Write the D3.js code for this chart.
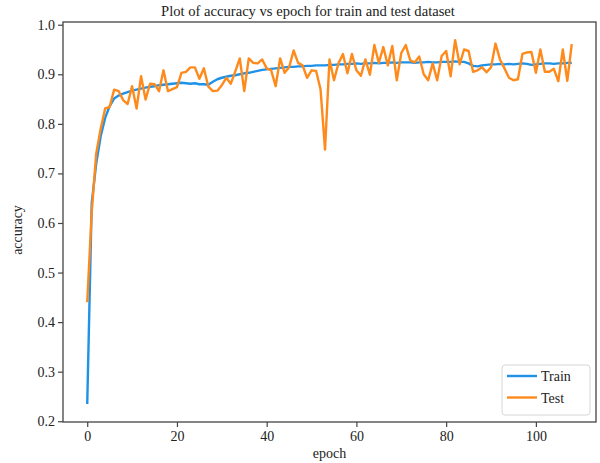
<!DOCTYPE html>
<html>
<head>
<meta charset="utf-8">
<script src="https://cdn.jsdelivr.net/npm/d3@7"></script>
<style>
  html, body { margin: 0; padding: 0; background: #fff; }
  svg { display: block; }
  text { font-family: "Liberation Serif", "DejaVu Serif", serif; fill: #222; }
</style>
</head>
<body>
<svg id="chart" width="600" height="463"></svg>
<script>
// ---- data ----
const epochs = d3.range(0, 109);
const trainAcc = [
  0.235, 0.640, 0.720, 0.775, 0.812, 0.836, 0.851, 0.857, 0.861, 0.864,
  0.867, 0.869, 0.871, 0.873, 0.875, 0.876, 0.878, 0.879, 0.880, 0.881,
  0.882, 0.883, 0.882, 0.881, 0.882, 0.880, 0.880, 0.879, 0.885, 0.890,
  0.893, 0.895, 0.897, 0.898, 0.900, 0.902, 0.903, 0.905, 0.907, 0.909,
  0.910, 0.911, 0.912, 0.913, 0.914, 0.915, 0.915, 0.916, 0.916, 0.917,
  0.917, 0.918, 0.918, 0.918, 0.919, 0.919, 0.920, 0.920, 0.921, 0.921,
  0.922, 0.921, 0.922, 0.922, 0.923, 0.922, 0.923, 0.923, 0.924, 0.923,
  0.924, 0.924, 0.924, 0.923, 0.924, 0.924, 0.925, 0.924, 0.924, 0.925,
  0.925, 0.925, 0.926, 0.925, 0.925, 0.922, 0.917, 0.916, 0.918, 0.919,
  0.920, 0.920, 0.921, 0.920, 0.921, 0.920, 0.921, 0.922, 0.921, 0.919,
  0.920, 0.921, 0.922, 0.922, 0.921, 0.922, 0.922, 0.923, 0.923
];
const testAcc = [
  0.440, 0.622, 0.740, 0.790, 0.831, 0.834, 0.869, 0.866, 0.848, 0.840,
  0.876, 0.831, 0.896, 0.849, 0.881, 0.880, 0.866, 0.908, 0.866, 0.870,
  0.874, 0.903, 0.905, 0.914, 0.914, 0.891, 0.912, 0.875, 0.866, 0.867,
  0.878, 0.893, 0.881, 0.906, 0.932, 0.866, 0.932, 0.923, 0.922, 0.930,
  0.912, 0.908, 0.876, 0.932, 0.903, 0.914, 0.948, 0.923, 0.918, 0.893,
  0.908, 0.907, 0.870, 0.748, 0.930, 0.888, 0.922, 0.941, 0.902, 0.941,
  0.908, 0.897, 0.930, 0.899, 0.959, 0.923, 0.955, 0.918, 0.957, 0.888,
  0.943, 0.959, 0.928, 0.924, 0.936, 0.900, 0.888, 0.922, 0.888, 0.937,
  0.947, 0.896, 0.969, 0.920, 0.950, 0.947, 0.905, 0.908, 0.914, 0.904,
  0.914, 0.962, 0.930, 0.912, 0.893, 0.888, 0.890, 0.941, 0.944, 0.945,
  0.903, 0.950, 0.905, 0.905, 0.911, 0.886, 0.950, 0.887, 0.961
];
const xTicks = [0, 20, 40, 60, 80, 100];
const yTicks = [0.2, 0.3, 0.4, 0.5, 0.6, 0.7, 0.8, 0.9, 1.0];
const seriesNames = ["Train", "Test"];
const seriesColors = ["#1f92e8", "#ff8a1c"];
const titleText = "Plot of accuracy vs epoch for train and test dataset";
const xLabel = "epoch";
const yLabel = "accuracy";

// ---- layout ----
const mLeft = 63, mRight = 596, mTop = 22, mBottom = 422;
const svg = d3.select("#chart");

const x = d3.scaleLinear().domain([-5.4, 113.4]).range([mLeft, mRight]);
const y = d3.scaleLinear().domain([0.1985, 1.0055]).range([mBottom, mTop]);

// lines
const series = [trainAcc, testAcc];
const line = d3.line().x((d, i) => x(epochs[i])).y(d => y(d));
series.forEach((s, k) => {
  svg.append("path")
    .datum(s)
    .attr("fill", "none")
    .attr("stroke", seriesColors[k])
    .attr("stroke-width", 2.4)
    .attr("stroke-linejoin", "round")
    .attr("d", line);
});

// frame
svg.append("rect")
  .attr("x", mLeft).attr("y", mTop)
  .attr("width", mRight - mLeft).attr("height", mBottom - mTop)
  .attr("fill", "none").attr("stroke", "#444").attr("stroke-width", 1.3);

// axes
const xAxis = d3.axisBottom(x).tickValues(xTicks).tickSize(5).tickPadding(4).tickFormat(d3.format("d"));
const yAxis = d3.axisLeft(y).tickValues(yTicks).tickSize(5).tickPadding(3).tickFormat(d3.format(".1f"));

const gx = svg.append("g").attr("transform", `translate(0,${mBottom})`).call(xAxis);
const gy = svg.append("g").attr("transform", `translate(${mLeft},0)`).call(yAxis);
[gx, gy].forEach(g => {
  g.select(".domain").remove();
  g.selectAll(".tick line").attr("stroke", "#444").attr("stroke-width", 1.2);
  g.selectAll(".tick text")
    .attr("fill", "#222")
    .style("font-family", "'Liberation Serif', serif")
    .style("font-size", "14px");
});

// title & labels
svg.append("text")
  .attr("x", 308).attr("y", 16)
  .attr("text-anchor", "middle")
  .style("font-size", "14.6px")
  .text(titleText);

svg.append("text")
  .attr("x", (mLeft + mRight) / 2).attr("y", 458)
  .attr("text-anchor", "middle")
  .style("font-size", "14px")
  .text(xLabel);

svg.append("text")
  .attr("transform", `translate(22,230) rotate(-90)`)
  .attr("text-anchor", "middle")
  .style("font-size", "14px")
  .text(yLabel);

// legend
const lg = svg.append("g");
lg.append("rect")
  .attr("x", 502).attr("y", 365).attr("width", 88).attr("height", 50)
  .attr("rx", 3).attr("fill", "#fff").attr("fill-opacity", 0.85)
  .attr("stroke", "#d6d6d6").attr("stroke-width", 1);
seriesNames.forEach((n, k) => {
  const yy = 376 + k * 21.5;
  lg.append("line")
    .attr("x1", 507).attr("x2", 537).attr("y1", yy).attr("y2", yy)
    .attr("stroke", seriesColors[k]).attr("stroke-width", 2.4);
  lg.append("text")
    .attr("x", 541).attr("y", yy + 5)
    .style("font-size", "14px")
    .text(n);
});
</script>
</body>
</html>
